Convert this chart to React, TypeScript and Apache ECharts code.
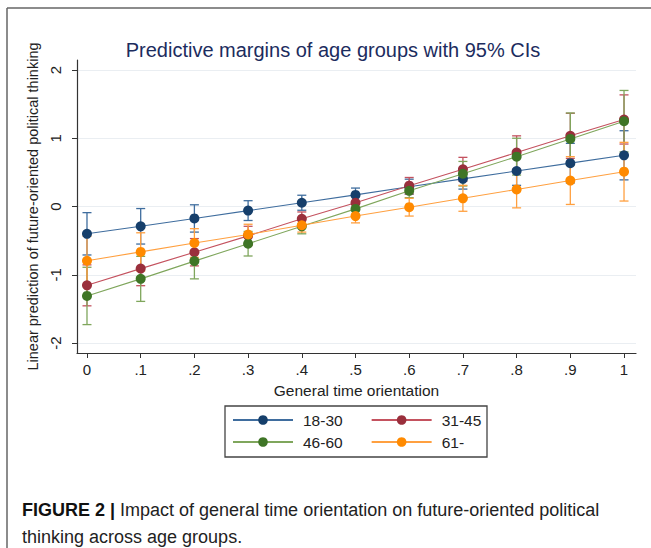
import React, { useEffect, useRef } from "react";
import * as echarts from "echarts";

const xValues = [0, 0.1, 0.2, 0.3, 0.4, 0.5, 0.6, 0.7, 0.8, 0.9, 1];
const xTickLabels = ["0", ".1", ".2", ".3", ".4", ".5", ".6", ".7", ".8", ".9", "1"];
const yTicks = [-2, -1, 0, 1, 2];
const groupNames = ["18-30", "31-45", "46-60", "61-"];

// predictive margins per age group
const margin1830 = [-0.40, -0.29, -0.175, -0.06, 0.055, 0.17, 0.29, 0.405, 0.52, 0.635, 0.75];
const margin3145 = [-1.155, -0.91, -0.67, -0.43, -0.18, 0.055, 0.305, 0.545, 0.79, 1.035, 1.275];
const margin4660 = [-1.31, -1.06, -0.80, -0.545, -0.29, -0.035, 0.23, 0.48, 0.73, 0.99, 1.25];
const margin61 = [-0.795, -0.665, -0.535, -0.41, -0.275, -0.14, -0.01, 0.12, 0.25, 0.38, 0.51];

// 95% CI half widths
const ci1830 = [0.31, 0.26, 0.20, 0.145, 0.11, 0.10, 0.11, 0.15, 0.21, 0.29, 0.36];
const ci3145 = [0.30, 0.25, 0.20, 0.14, 0.10, 0.09, 0.12, 0.175, 0.245, 0.33, 0.36];
const ci4660 = [0.42, 0.33, 0.26, 0.18, 0.11, 0.08, 0.10, 0.18, 0.27, 0.38, 0.45];
const ci61 = [0.36, 0.28, 0.21, 0.15, 0.10, 0.10, 0.13, 0.19, 0.27, 0.35, 0.43];

const margins = [margin1830, margin3145, margin4660, margin61];
const cis = [ci1830, ci3145, ci4660, ci61];

const markerColors = ["#163f6b", "#9a2f3c", "#3f7526", "#ff8a00"];
const lineColors = ["#3f6d9e", "#c4525f", "#7fa65c", "#ffa040"];

const FONT = "'Liberation Sans', Arial, sans-serif";

export default function App() {
  const ref = useRef<HTMLDivElement>(null);
  useEffect(() => {
    if (!ref.current) return;
    const chart = echarts.init(ref.current, undefined, { renderer: "svg" });

    const lineSeries = groupNames.map((name, i) => ({
      type: "line",
      name,
      data: xValues.map((x, k) => [x, margins[i][k]]),
      symbol: "circle",
      symbolSize: 10,
      itemStyle: { color: markerColors[i] },
      lineStyle: { color: lineColors[i], width: 1.1 },
      z: 3,
    }));

    const ciSeries = groupNames.map((name, i) => ({
      type: "custom",
      name: name + " CI",
      data: xValues.map((x, k) => [x, margins[i][k] - cis[i][k], margins[i][k] + cis[i][k]]),
      encode: { x: 0, y: [1, 2] },
      z: 2,
      renderItem: (params: any, api: any) => {
        const x = api.value(0);
        const lo = api.coord([x, api.value(1)]);
        const hi = api.coord([x, api.value(2)]);
        const w = 4.5;
        const style = { stroke: lineColors[i], lineWidth: 1.3, fill: "none" };
        return {
          type: "group",
          children: [
            { type: "line", shape: { x1: lo[0], y1: lo[1], x2: hi[0], y2: hi[1] }, style },
            { type: "line", shape: { x1: lo[0] - w, y1: lo[1], x2: lo[0] + w, y2: lo[1] }, style },
            { type: "line", shape: { x1: hi[0] - w, y1: hi[1], x2: hi[0] + w, y2: hi[1] }, style },
          ],
        };
      },
    }));

    const legendCommon = {
      left: 232,
      orient: "horizontal",
      itemWidth: 60,
      itemHeight: 12,
      itemGap: 28,
      padding: 0,
      selectedMode: false,
      textStyle: { fontSize: 15.5, color: "#222", fontFamily: FONT, padding: [0, 0, 0, 5] },
    };

    chart.setOption({
      animation: false,
      backgroundColor: "#ffffff",
      textStyle: { fontFamily: FONT },
      title: {
        text: "Predictive margins of age groups with 95% CIs",
        left: 328,
        textAlign: "center",
        top: 35,
        textStyle: { fontSize: 20, fontWeight: "normal", color: "#1c2c5e", fontFamily: FONT },
      },
      grid: { left: 77, width: 559, top: 60, height: 293 },
      xAxis: {
        type: "value",
        min: -0.0186,
        max: 1.0223,
        name: "General time orientation",
        nameLocation: "middle",
        nameGap: 29,
        nameTextStyle: { fontSize: 15.5, color: "#222", fontFamily: FONT },
        axisLine: { show: true, onZero: false, lineStyle: { color: "#333", width: 1.2 } },
        axisTick: { show: true, customValues: xValues, length: 5, lineStyle: { color: "#333" } },
        axisLabel: {
          customValues: xValues,
          margin: 9,
          fontSize: 15,
          color: "#222",
          fontFamily: FONT,
          formatter: (v: number) => xTickLabels[Math.round(v * 10)],
        },
        splitLine: { show: false },
      },
      yAxis: {
        type: "value",
        min: -2.146,
        max: 2.146,
        name: "Linear prediction of future-oriented political thinking",
        nameLocation: "middle",
        nameGap: 31,
        nameRotate: 90,
        nameTextStyle: { fontSize: 14.5, color: "#222", fontFamily: FONT },
        axisLine: { show: true, onZero: false, lineStyle: { color: "#333", width: 1.2 } },
        axisTick: { show: true, customValues: yTicks, length: 5, lineStyle: { color: "#333" } },
        axisLabel: {
          customValues: yTicks,
          rotate: 90,
          margin: 14,
          fontSize: 15,
          color: "#222",
          fontFamily: FONT,
        },
        splitLine: { show: true, lineStyle: { color: "#eaeef2", width: 1.2 } },
      },
      legend: [
        { ...legendCommon, top: 412, data: ["18-30", "31-45"] },
        { ...legendCommon, top: 434, data: ["46-60", "61-"] },
      ],
      graphic: [
        { type: "line", shape: { x1: 7, y1: 8, x2: 651, y2: 8 }, style: { stroke: "#666", lineWidth: 1.5 } },
        { type: "line", shape: { x1: 7, y1: 8, x2: 7, y2: 548 }, style: { stroke: "#666", lineWidth: 1.5 } },
        {
          type: "rect",
          shape: { x: 225, y: 406, width: 262, height: 51 },
          style: { fill: "none", stroke: "#444", lineWidth: 1.3 },
        },
        {
          type: "text",
          left: 22,
          top: 496,
          style: {
            text: "{b|FIGURE 2 |} Impact of general time orientation on future-oriented political\nthinking across age groups.",
            fontSize: 18,
            lineHeight: 27,
            fill: "#222",
            fontFamily: FONT,
            rich: {
              b: {
                fontSize: 18,
                fontWeight: "bold",
                fill: "#111",
                lineHeight: 27,
                fontFamily: FONT,
              },
            },
          },
        },
      ],
      series: [...ciSeries, ...lineSeries],
    });

    return () => chart.dispose();
  }, []);

  return (
    <div
      ref={ref}
      style={{ position: "absolute", left: 0, top: 0, width: 651, height: 548 }}
    />
  );
}
